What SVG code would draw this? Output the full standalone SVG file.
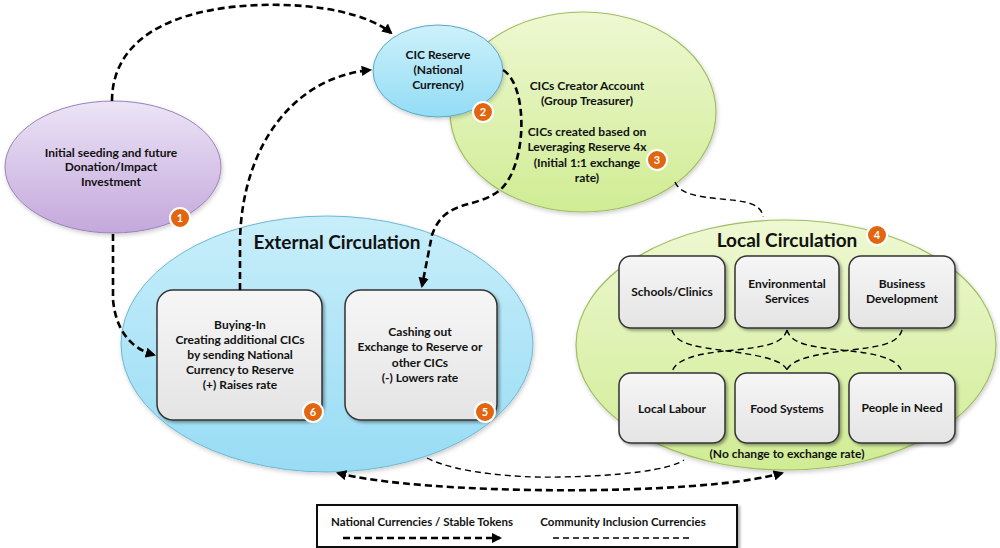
<svg xmlns="http://www.w3.org/2000/svg" width="1000" height="548" viewBox="0 0 1000 548">
<defs>
<linearGradient id="gPurple" x1="0" y1="0" x2="0" y2="1"><stop offset="0" stop-color="#ece4f6"/><stop offset="1" stop-color="#c4a8dc"/></linearGradient>
<linearGradient id="gBlue" x1="0" y1="0" x2="0" y2="1"><stop offset="0" stop-color="#cdf1fb"/><stop offset="1" stop-color="#93dcf5"/></linearGradient>
<linearGradient id="gExt" x1="0" y1="0" x2="0" y2="1"><stop offset="0" stop-color="#c8eefa"/><stop offset="1" stop-color="#98dcf4"/></linearGradient>
<linearGradient id="gGreen" x1="0" y1="0" x2="0" y2="1"><stop offset="0" stop-color="#eef8d2"/><stop offset="1" stop-color="#d0ec94"/></linearGradient>
<linearGradient id="gBox" x1="0" y1="0" x2="0" y2="1"><stop offset="0" stop-color="#f6f6f6"/><stop offset="1" stop-color="#e4e4e4"/></linearGradient>
<filter id="sh" x="-20%" y="-20%" width="140%" height="140%"><feDropShadow dx="2" dy="2" stdDeviation="1.5" flood-color="#000" flood-opacity="0.35"/></filter>
<filter id="shE" x="-10%" y="-10%" width="120%" height="120%"><feDropShadow dx="1" dy="2" stdDeviation="2" flood-color="#000" flood-opacity="0.2"/></filter>
<marker id="ah" viewBox="0 0 10 10" refX="8" refY="5" markerWidth="4" markerHeight="4" orient="auto-start-reverse" markerUnits="strokeWidth"><path d="M0,0 L10,5 L0,10 Z" fill="#000"/></marker>
</defs>
<style>
text{font-family:Lato,"Liberation Sans",sans-serif;font-weight:bold;fill:#111;text-anchor:middle;font-size:12px}
.t{font-size:19px}
.box{fill:url(#gBox);stroke:#333;stroke-width:1.5;filter:url(#sh)}
.badge circle{fill:#e2650f;stroke:#fff;stroke-width:2}
.badge text{fill:#fff;font-size:11px}
.nat{fill:none;stroke:#000;stroke-width:2.6;stroke-dasharray:7,4}
.cic{fill:none;stroke:#000;stroke-width:1.4;stroke-dasharray:6,4}
</style>
<rect width="1000" height="548" fill="#fff"/>

<g id="external-circulation">
<ellipse cx="327" cy="344" rx="206" ry="128" fill="url(#gExt)" stroke="#6cb8d4" stroke-width="1" filter="url(#shE)"/>
<text class="t" x="337" y="249">External Circulation</text>
</g>

<g id="local-circulation">
<ellipse cx="786" cy="345" rx="210" ry="125" fill="url(#gGreen)" stroke="#a0bd62" stroke-width="1.2" filter="url(#shE)"/>
<text class="t" x="787" y="247">Local Circulation</text>
<text x="787" y="458">(No change to exchange rate)</text>
<g class="badge"><circle cx="877" cy="235" r="10"/><text x="877" y="239">4</text></g>
</g>

<g id="creator-account">
<ellipse cx="583" cy="112" rx="133" ry="100" fill="url(#gGreen)" stroke="#a0bd62" stroke-width="1.2" filter="url(#shE)"/>
<text x="587" y="90">CICs Creator Account</text>
<text x="587" y="105">(Group Treasurer)</text>
<text x="587" y="136">CICs created based on</text>
<text x="587" y="151">Leveraging Reserve 4x</text>
<text x="587" y="167">(Initial 1:1 exchange</text>
<text x="587" y="182">rate)</text>
<g class="badge"><circle cx="657" cy="160" r="10"/><text x="657" y="164">3</text></g>
</g>

<g id="cic-reserve">
<ellipse cx="438" cy="71" rx="65" ry="46" fill="url(#gBlue)" stroke="#5aa8c6" stroke-width="1" filter="url(#shE)"/>
<text x="438" y="59">CIC Reserve</text>
<text x="438" y="74">(National</text>
<text x="438" y="89">Currency)</text>
<g class="badge"><circle cx="483" cy="112" r="10"/><text x="483" y="116">2</text></g>
</g>

<g id="initial-seeding">
<ellipse cx="113" cy="167" rx="108" ry="66" fill="url(#gPurple)" stroke="#9a82b8" stroke-width="1" filter="url(#shE)"/>
<text x="111" y="157">Initial seeding and future</text>
<text x="111" y="171">Donation/Impact</text>
<text x="111" y="186">Investment</text>
<g class="badge"><circle cx="180" cy="218" r="10"/><text x="180" y="222">1</text></g>
</g>

<g id="buying-in">
<rect class="box" x="157" y="290" width="165" height="130" rx="16"/>
<text x="240" y="329">Buying-In</text>
<text x="240" y="344">Creating additional CICs</text>
<text x="240" y="359">by sending National</text>
<text x="240" y="374">Currency to Reserve</text>
<text x="240" y="389">(+) Raises rate</text>
<g class="badge"><circle cx="313" cy="412" r="10"/><text x="313" y="416">6</text></g>
</g>

<g id="cashing-out">
<rect class="box" x="345" y="290" width="152" height="130" rx="16"/>
<text x="420" y="336">Cashing out</text>
<text x="420" y="351">Exchange to Reserve or</text>
<text x="420" y="367">other CICs</text>
<text x="420" y="382">(-) Lowers rate</text>
<g class="badge"><circle cx="485" cy="412" r="10"/><text x="485" y="416">5</text></g>
</g>

<g id="schools-clinics"><rect class="box" x="619" y="256" width="106" height="72" rx="12"/><text x="672" y="296">Schools/Clinics</text></g>
<g id="environmental-services"><rect class="box" x="735" y="256" width="104" height="72" rx="12"/><text x="787" y="288">Environmental</text><text x="787" y="303">Services</text></g>
<g id="business-development"><rect class="box" x="849" y="256" width="106" height="72" rx="12"/><text x="902" y="288">Business</text><text x="902" y="303">Development</text></g>
<g id="local-labour"><rect class="box" x="619" y="373" width="106" height="70" rx="12"/><text x="672" y="413">Local Labour</text></g>
<g id="food-systems"><rect class="box" x="735" y="373" width="104" height="70" rx="12"/><text x="787" y="413">Food Systems</text></g>
<g id="people-in-need"><rect class="box" x="849" y="373" width="106" height="70" rx="12"/><text x="902" y="412">People in Need</text></g>

<g id="connectors">
<path class="nat" d="M112,101 C112,40 170,8 260,5 C320,3 370,15 391,33" marker-end="url(#ah)"/>
<path class="nat" d="M113,234 L113,300 C116,330 130,348 154,355" marker-end="url(#ah)"/>
<path class="nat" d="M240,290 L240,240 C242,150 290,78 370,70" marker-end="url(#ah)"/>
<path class="nat" d="M503,70 C528,85 528,165 500,190 C475,210 445,198 432,235 L422,286" marker-end="url(#ah)"/>
<path class="cic" d="M675,182 C682,200 720,197 745,202 C758,205 762,210 763,217"/>
<path class="cic" d="M427,458 C460,475 530,478 560,477 C620,476 670,470 684,460"/>
<path class="nat" d="M338,473 C420,495 700,497 782,473" marker-start="url(#ah)" marker-end="url(#ah)"/>
<path class="cic" d="M672,330 C676,345 700,347 720,350 C760,355 783,360 787,370"/>
<path class="cic" d="M787,330 C783,345 760,347 735,350 C700,353 676,358 672,372"/>
<path class="cic" d="M787,330 C791,345 815,347 840,350 C875,353 898,358 902,372"/>
<path class="cic" d="M902,330 C898,345 875,347 850,350 C810,355 791,360 787,370"/>
</g>

<g id="legend">
<rect x="317" y="505" width="420" height="42" fill="#fff" stroke="#111" stroke-width="2" filter="url(#sh)"/>
<text x="422" y="526" style="font-size:11.5px">National Currencies /  Stable Tokens</text>
<text x="623" y="526" style="font-size:11.5px">Community Inclusion Currencies</text>
<path class="nat" d="M343,538 L500,538" marker-end="url(#ah)"/>
<path class="cic" d="M553,538 L693,538"/>
</g>
</svg>
